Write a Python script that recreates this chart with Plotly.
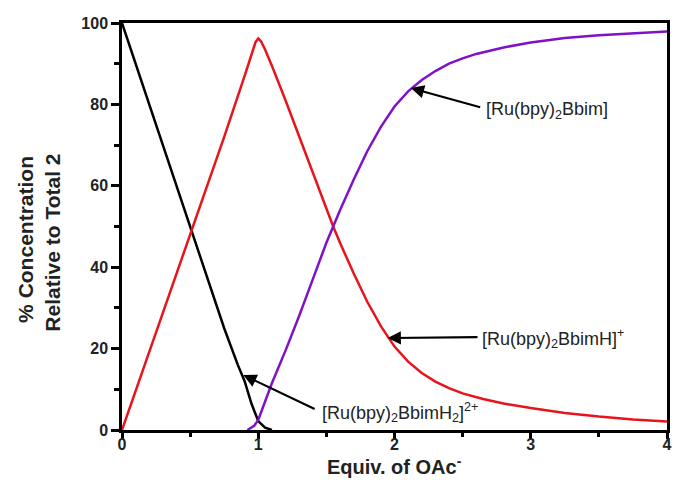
import plotly.graph_objects as go

# Speciation of the Ru complex vs. equivalents of acetate added
x_h2 = [0, 0.25, 0.5, 0.75, 0.85, 0.9, 0.95, 1.0, 1.05, 1.1]
y_h2 = [100, 75, 50, 25, 16, 12, 6.5, 2.2, 0.6, 0]

x_h = [0, 0.25, 0.5, 0.75, 0.9, 0.95, 0.98, 1.0, 1.02, 1.05, 1.1, 1.2, 1.3, 1.4,
       1.5, 1.55, 1.6, 1.7, 1.8, 1.9, 2.0, 2.1, 2.2, 2.3, 2.4, 2.5, 2.65, 2.8, 3.0,
       3.25, 3.5, 3.75, 4.0]
y_h = [0, 24, 48, 72, 87, 92, 95.3, 96.2, 95.5, 93.5, 89.5, 81, 72, 63,
       54.5, 50, 46, 38.5, 31.5, 25.5, 20.5, 16.8, 14, 11.9, 10.3, 9.0, 7.6, 6.5, 5.4,
       4.2, 3.3, 2.6, 2.1]

x_d = [0.92, 0.97, 1.0, 1.05, 1.1, 1.2, 1.3, 1.4, 1.5, 1.6, 1.7, 1.8, 1.9,
       2.0, 2.1, 2.2, 2.3, 2.4, 2.5, 2.6, 2.8, 3.0, 3.25, 3.5, 3.75, 4.0]
y_d = [0, 1, 2.5, 7, 11.5, 19.5, 28, 37, 46, 54, 61.5, 68.5, 74.5,
       79.5, 83.2, 86, 88.2, 90, 91.3, 92.4, 94, 95.2, 96.3, 97, 97.5, 97.9]

FONT = "Arial, Liberation Sans, sans-serif"

fig = go.Figure()
fig.add_trace(go.Scatter(x=x_h2, y=y_h2, mode="lines",
                         line=dict(color="#000000", width=2.5)))
fig.add_trace(go.Scatter(x=x_h, y=y_h, mode="lines",
                         line=dict(color="#E8141C", width=2.5)))
fig.add_trace(go.Scatter(x=x_d, y=y_d, mode="lines",
                         line=dict(color="#7F12C8", width=2.5)))

axis_common = dict(
    showgrid=False, zeroline=False, showline=True, linecolor="black", linewidth=2.5,
    mirror=True, ticks="outside", tickwidth=2.5, tickcolor="black",
    tickfont=dict(family=FONT, size=16, color="#222", weight="bold"),
)
fig.update_xaxes(range=[0, 4], tickvals=[0, 1, 2, 3, 4], ticklen=6,
                 ticklabelstandoff=-8,
                 minor=dict(tickvals=[0.5, 1.5, 2.5, 3.5], ticks="outside",
                            ticklen=4, tickwidth=2.5, tickcolor="black"),
                 **axis_common)
fig.update_yaxes(range=[0, 100], tickvals=[0, 20, 40, 60, 80, 100], ticklen=8,
                 minor=dict(tickvals=[10, 30, 50, 70, 90], ticks="outside",
                            ticklen=5, tickwidth=2.5, tickcolor="black"),
                 **axis_common)

W_PLOT, H_PLOT, L, T = 550, 407, 122, 23


def px_x(p):
    return (p - L) / W_PLOT


def px_y(p):
    return (T + H_PLOT - p) / H_PLOT


title_font = dict(family=FONT, size=21, color="#222", weight="bold")
annotations = [
    dict(text="% Concentration", xref="paper", yref="paper", x=px_x(25), y=px_y(239),
         xanchor="center", yanchor="middle", textangle=-90, showarrow=False,
         font=title_font),
    dict(text="Relative to Total 2", xref="paper", yref="paper", x=px_x(51), y=px_y(243),
         xanchor="center", yanchor="middle", textangle=-90, showarrow=False,
         font=title_font),
    dict(text="Equiv. of OAc<sup>-</sup>", xref="paper", yref="paper",
         x=0.5, y=px_y(465), showarrow=False, xanchor="center", yanchor="middle",
         font=dict(family=FONT, size=20, color="#222", weight="bold")),
]

# Arrows pointing at each species curve
arrows = [
    ((2.12, 84.0), (2.64, 79.2)),
    ((1.95, 22.6), (2.62, 22.8)),
    ((0.89, 13.5), (1.425, 5.0)),
]
for (hx, hy), (tx, ty) in arrows:
    annotations.append(dict(text="", x=hx, y=hy, ax=tx, ay=ty, xref="x", yref="y",
                            axref="x", ayref="y", showarrow=True, arrowhead=2,
                            arrowsize=1.2, arrowwidth=2.2, arrowcolor="black"))

labels = [
    ("[Ru(bpy)<sub>2</sub>Bbim]", 2.655, 78.6),
    ("[Ru(bpy)<sub>2</sub>BbimH]<sup>+</sup>", 2.625, 22.6),
    ("[Ru(bpy)<sub>2</sub>BbimH<sub>2</sub>]<sup>2+</sup>", 1.455, 4.2),
]
for txt, lx, ly in labels:
    annotations.append(dict(text=txt, x=lx, y=ly, xref="x", yref="y", xanchor="left",
                            yanchor="middle", showarrow=False,
                            font=dict(family=FONT, size=18, color="#222")))

fig.update_layout(
    width=675, height=495, showlegend=False,
    margin=dict(l=L, r=3, t=T, b=495 - T - H_PLOT),
    plot_bgcolor="white", paper_bgcolor="white",
    annotations=annotations,
)

fig.write_html("out.html")
